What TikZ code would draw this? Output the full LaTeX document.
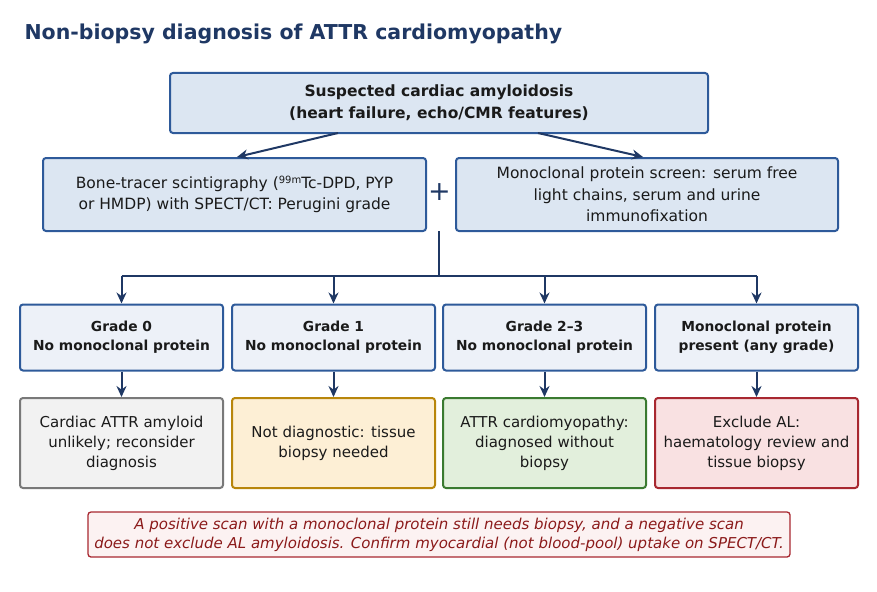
\documentclass[tikz,border=0pt]{standalone}
\usepackage{fontspec}
\setmainfont{DejaVu Sans}
\usetikzlibrary{arrows.meta}
\definecolor{navy}{HTML}{1F3864}
\definecolor{bblue}{HTML}{2E5A9A}
\definecolor{fblue}{HTML}{DCE6F2}
\definecolor{fgrade}{HTML}{EDF1F8}
\definecolor{gold}{HTML}{B8860B}
\definecolor{ink}{HTML}{1A1A1A}
\begin{document}
\begin{tikzpicture}[x=1pt,y=-1pt,
 box/.style={draw=bblue,line width=2pt,rounded corners=3pt,fill=fblue,align=center,inner sep=0pt,text=ink},
 arr/.style={draw=navy,line width=2pt,-{Stealth[length=11pt,width=10pt]}},
 t/.style={font=\fontsize{15.5}{21.5}\selectfont},
 g/.style={font=\fontsize{13.8}{19}\selectfont\bfseries}]
\useasboundingbox (0,0) rectangle (877,591);
\node[anchor=west,text=navy,font=\fontsize{20.5}{24}\selectfont\bfseries] (title) at (21,34) {Non-biopsy diagnosis of ATTR cardiomyopathy};
\node[box,minimum width=538,minimum height=60,font=\fontsize{15.5}{22}\selectfont\bfseries] (top) at (439,103) {Suspected cardiac amyloidosis\\(heart failure, echo/CMR features)};
\node[box,t,minimum width=383,minimum height=73] (L) at (234.5,194.5) {Bone-tracer scintigraphy (\raisebox{0.6ex}{\fontsize{10}{10}\selectfont 99m}Tc-DPD, PYP\\or HMDP) with SPECT/CT: Perugini grade};
\node[box,t,minimum width=382,minimum height=73] (R) at (647,194.5) {Monoclonal protein screen: serum free\\light chains, serum and urine\\immunofixation};
\node[text=navy,font=\fontsize{27}{27}\selectfont] (plus) at (439.5,192) {+};
\draw[arr] (338,133) -- (L.north -| 237,0);
\draw[arr] (538,133) -- (R.north -| 643,0);
\coordinate (j) at (439,276);
\draw[navy,line width=2pt] (439,231) -- (j);
\draw[navy,line width=2pt] (121.5,276) -- (756.5,276);
\foreach \n/\x/\a/\b in {g0/121.5/Grade 0/No monoclonal protein,g1/333.5/Grade 1/No monoclonal protein,g2/544.5/Grade 2–3/No monoclonal protein,g3/756.5/Monoclonal protein/present (any grade)}{
 \node[box,g,fill=fgrade,minimum width=203,minimum height=66] (\n) at (\x,337.5) {\a\\\b};
 \draw[arr] (\x,276) -- (\n.north);
}
\tikzset{o/.style={box,t,font=\fontsize{15}{20}\selectfont,minimum width=203,minimum height=90}}
\node[o,draw=gray!95!black,fill=black!5] (o0) at (121.5,443) {Cardiac ATTR amyloid\\unlikely; reconsider\\diagnosis};
\node[o,draw=gold,fill={rgb,255:red,253;green,239;blue,213}] (o1) at (333.5,443) {Not diagnostic: tissue\\biopsy needed};
\node[o,draw={rgb,255:red,58;green,122;blue,48},fill={rgb,255:red,226;green,239;blue,220}] (o2) at (544.5,443) {ATTR cardiomyopathy:\\diagnosed without\\biopsy};
\node[o,draw={rgb,255:red,168;green,40;blue,48},fill={rgb,255:red,249;green,225;blue,226}] (o3) at (756.5,443) {Exclude AL:\\haematology review and\\tissue biopsy};
\foreach \i in {0,1,2,3}{\draw[arr] (g\i) -- (o\i);}
\node[box,draw={rgb,255:red,168;green,40;blue,48},line width=1.3pt,fill={rgb,255:red,252;green,242;blue,242},minimum width=702,minimum height=45,text={rgb,255:red,139;green,26;blue,26},font=\fontsize{15}{19}\selectfont\itshape] (note) at (439,534.5) {A positive scan with a monoclonal protein still needs biopsy, and a negative scan\\does not exclude AL amyloidosis. Confirm myocardial (not blood-pool) uptake on SPECT/CT.};
\end{tikzpicture}
\end{document}
